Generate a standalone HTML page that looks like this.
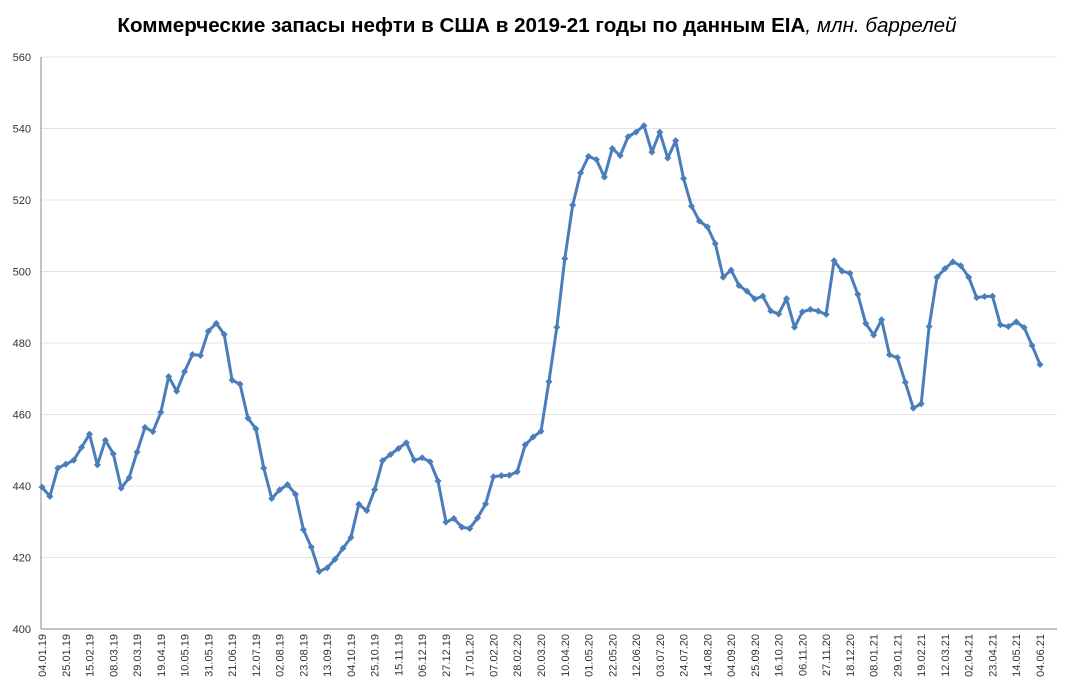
<!DOCTYPE html>
<html><head><meta charset="utf-8"><style>
body{margin:0;background:#fff;width:1071px;height:694px;overflow:hidden;font-family:"Liberation Sans","DejaVu Sans",sans-serif}
</style></head><body>
<svg id="c" width="1071" height="694">
<text x="537" y="32" text-anchor="middle" font-family="Liberation Sans, DejaVu Sans, sans-serif" font-size="20.6" font-weight="bold" fill="#000">Коммерческие запасы нефти в США в 2019-21 годы по данным EIA<tspan font-weight="normal" font-style="italic">, млн. баррелей</tspan></text>
<g id="grid"></g><g id="yl"></g><g id="xl"></g><g id="ser"></g>
</svg>
<script>
const yTicks=[400,420,440,460,480,500,520,540,560];
const xLabels=["04.01.19","25.01.19","15.02.19","08.03.19","29.03.19","19.04.19","10.05.19","31.05.19","21.06.19","12.07.19","02.08.19","23.08.19","13.09.19","04.10.19","25.10.19","15.11.19","06.12.19","27.12.19","17.01.20","07.02.20","28.02.20","20.03.20","10.04.20","01.05.20","22.05.20","12.06.20","03.07.20","24.07.20","14.08.20","04.09.20","25.09.20","16.10.20","06.11.20","27.11.20","18.12.20","08.01.21","29.01.21","19.02.21","12.03.21","02.04.21","23.04.21","14.05.21","04.06.21"];
const stocks=[439.7,437.1,445.0,446.1,447.2,450.8,454.5,445.9,452.8,449.0,
439.4,442.3,449.5,456.4,455.2,460.6,470.6,466.5,472.0,476.8,
476.5,483.3,485.5,482.4,469.6,468.5,459.0,456.0,445.0,436.5,
438.9,440.4,437.7,427.8,422.9,416.1,417.1,419.5,422.6,425.6,
434.9,433.1,439.0,447.1,448.8,450.5,452.1,447.2,447.9,446.8,
441.4,429.9,430.9,428.5,428.1,431.1,435.0,442.6,442.9,443.0,
444.0,451.5,453.7,455.3,469.2,484.4,503.6,518.6,527.6,532.2,
531.3,526.4,534.4,532.4,537.7,539.0,540.8,533.4,539.0,531.7,
536.6,526.0,518.3,514.1,512.5,507.8,498.4,500.4,496.1,494.5,
492.3,493.1,489.0,488.1,492.4,484.4,488.7,489.4,488.9,488.0,
503.0,500.1,499.5,493.6,485.5,482.2,486.5,476.7,475.9,469.0,
461.8,463.0,484.6,498.4,500.8,502.7,501.6,498.4,492.7,493.0,
493.1,485.1,484.6,485.9,484.3,479.3,474.0];
const NS="http://www.w3.org/2000/svg";
const L=41,R=1057,T=57,B=629,x0=42,x1=1040;
const yS=v=>B-(v-400)/160*(B-T);
const xS=i=>x0+i*(x1-x0)/(stocks.length-1);
function mk(t,a,p){const e=document.createElementNS(NS,t);for(const k in a)e.setAttribute(k,a[k]);p.appendChild(e);return e;}
const g=document.getElementById('grid'),yl=document.getElementById('yl'),xl=document.getElementById('xl'),s=document.getElementById('ser');
yTicks.forEach(v=>{
 if(v>400){const ln=mk('line',{x1:L,x2:R,y1:yS(v),y2:yS(v),stroke:'#e4e4e4','stroke-width':1},g);
 
 }
 const t=mk('text',{x:31,y:yS(v)+4,'text-anchor':'end','font-size':11,fill:'#333'},yl);
 t.textContent=v;
 
 
});
const ya=mk('line',{x1:L,x2:L,y1:T,y2:B,stroke:'#888'},g);


const xa=mk('line',{x1:L,x2:R,y1:B,y2:B,stroke:'#888'},g);


xLabels.forEach((lb,k)=>{
 const x=xS(k*3)+4;
 const t=mk('text',{x:0,y:0,transform:`translate(${x},${B+5}) rotate(-90)`,'text-anchor':'end','font-size':11,fill:'#333'},xl);
 t.textContent=lb;
 
 
});
const pts=stocks.map((v,i)=>xS(i).toFixed(1)+','+yS(v).toFixed(1)).join(' ');
const pl=mk('polyline',{points:pts,fill:'none',stroke:'#4a7ebb','stroke-width':3,'stroke-linejoin':'round'},s);


stocks.forEach((v,i)=>{
 const x=xS(i),y=yS(v);
 const m=mk('polygon',{points:`${x},${y-3.5} ${x+3.5},${y} ${x},${y+3.5} ${x-3.5},${y}`,fill:'#4a7ebb'},s);
 
 
});
</script>
</body></html>
